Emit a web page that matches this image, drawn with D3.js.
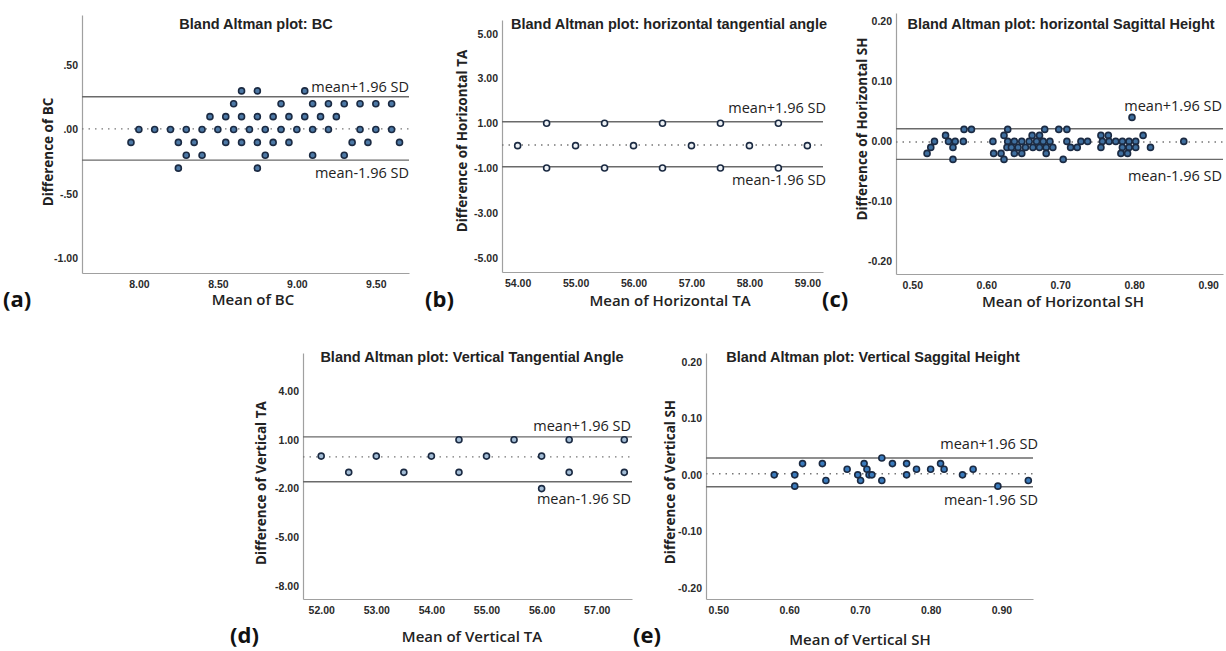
<!DOCTYPE html>
<html>
<head>
<meta charset="utf-8">
<script src="https://cdn.jsdelivr.net/npm/d3@7"></script>
<style>
  html, body { margin: 0; padding: 0; background: #fff; }
  svg { display: block; }
</style>
</head>
<body>
<svg id="chart" width="1226" height="651"></svg>
<script>
// ---------- DATA ----------
// (a) BC
const bcMean = [8.65, 8.75, 9.05,
  8.6, 8.9, 9.1, 9.2, 9.3, 9.4, 9.5, 9.6,
  8.45, 8.55, 8.65, 8.75, 8.85, 8.95, 9.05, 9.15, 9.25,
  8.0, 8.1, 8.2, 8.3, 8.4, 8.5, 8.6, 8.7, 8.8, 8.9, 9.0, 9.1, 9.2, 9.4, 9.5, 9.6,
  7.95, 8.25, 8.35, 8.55, 8.65, 8.75, 8.85, 8.95, 9.35, 9.45, 9.65,
  8.3, 8.4, 8.8, 9.1, 9.3,
  8.25, 8.75];
const bcDiff = [0.3, 0.3, 0.3,
  0.2, 0.2, 0.2, 0.2, 0.2, 0.2, 0.2, 0.2,
  0.1, 0.1, 0.1, 0.1, 0.1, 0.1, 0.1, 0.1, 0.1,
  0, 0, 0, 0, 0, 0, 0, 0, 0, 0, 0, 0, 0, 0, 0, 0,
  -0.1, -0.1, -0.1, -0.1, -0.1, -0.1, -0.1, -0.1, -0.1, -0.1, -0.1,
  -0.2, -0.2, -0.2, -0.2, -0.2,
  -0.3, -0.3];
const bcLimits = [0.255, 0.005, -0.238];          // upper, mean, lower
const bcXTicks = [8.0, 8.5, 9.0, 9.5];
const bcYTicks = [0.5, 0, -0.5, -1.0];
const bcYTickLabels = [".50", ".00", "-.50", "-1.00"];

// (b) horizontal tangential angle
const hTaMean = [54.5, 55.5, 56.5, 57.5, 58.5, 54, 55, 56, 57, 58, 59, 54.5, 55.5, 56.5, 57.5, 58.5];
const hTaDiff = [1, 1, 1, 1, 1, 0, 0, 0, 0, 0, 0, -1, -1, -1, -1, -1];
const hTaLimits = [1.07, 0.03, -0.94];
const hTaXTicks = [54, 55, 56, 57, 58, 59];
const hTaYTicks = [5, 3, 1, -1, -3, -5];
const hTaYTickLabels = ["5.00", "3.00", "1.00", "-1.00", "-3.00", "-5.00"];

// (c) horizontal sagittal height
const hShMean = [0.797,
  0.570, 0.580, 0.629, 0.679, 0.698, 0.709,
  0.545, 0.624, 0.662, 0.672, 0.755, 0.765, 0.812,
  0.530, 0.549, 0.558, 0.569, 0.609, 0.629, 0.638, 0.648, 0.658, 0.668, 0.677, 0.686, 0.709, 0.728, 0.737, 0.757, 0.766, 0.775, 0.784, 0.793, 0.802, 0.867,
  0.525, 0.555, 0.628, 0.634, 0.643, 0.653, 0.663, 0.672, 0.681, 0.690, 0.714, 0.723, 0.755, 0.784, 0.793, 0.802, 0.822,
  0.520, 0.610, 0.620, 0.638, 0.648, 0.681, 0.782, 0.791,
  0.555, 0.624, 0.704];
const hShDiff = [0.04,
  0.02, 0.02, 0.02, 0.02, 0.02, 0.02,
  0.01, 0.01, 0.01, 0.01, 0.01, 0.01, 0.01,
  0, 0, 0, 0, 0, 0, 0, 0, 0, 0, 0, 0, 0, 0, 0, 0, 0, 0, 0, 0, 0, 0,
  -0.01, -0.01, -0.01, -0.01, -0.01, -0.01, -0.01, -0.01, -0.01, -0.01, -0.01, -0.01, -0.01, -0.01, -0.01, -0.01, -0.01,
  -0.02, -0.02, -0.02, -0.02, -0.02, -0.02, -0.02, -0.02,
  -0.03, -0.03, -0.03];
const hShLimits = [0.021, -0.001, -0.030];
const hShXTicks = [0.5, 0.6, 0.7, 0.8, 0.9];
const hShYTicks = [0.2, 0.1, 0, -0.1, -0.2];
const hShYTickLabels = ["0.20", "0.10", "0.00", "-0.10", "-0.20"];

// (d) vertical tangential angle
const vTaMean = [52, 53, 54, 55, 56, 54.5, 55.5, 56.5, 57.5, 52.5, 53.5, 54.5, 56.5, 57.5, 56];
const vTaDiff = [0, 0, 0, 0, 0, 1, 1, 1, 1, -1, -1, -1, -1, -1, -2];
const vTaLimits = [1.18, -0.05, -1.58];
const vTaXTicks = [52, 53, 54, 55, 56, 57];
const vTaYTicks = [4, 1, -2, -5, -8];
const vTaYTickLabels = ["4.00", "1.00", "-2.00", "-5.00", "-8.00"];

// (e) vertical sagittal height
const vShMean = [0.579, 0.608, 0.608, 0.619, 0.647, 0.652, 0.682, 0.697, 0.701, 0.706, 0.710, 0.713, 0.717,
  0.731, 0.731, 0.746, 0.766, 0.766, 0.780, 0.800, 0.814, 0.819, 0.845, 0.860, 0.895, 0.938];
const vShDiff = [0, 0, -0.02, 0.02, 0.02, -0.01, 0.01, 0, -0.01, 0.02, 0.01, 0, 0,
  0.03, -0.01, 0.02, 0.02, 0, 0.01, 0.01, 0.02, 0.01, 0, 0.01, -0.02, -0.01];
const vShLimits = [0.030, 0.002, -0.021];
const vShXTicks = [0.5, 0.6, 0.7, 0.8, 0.9];
const vShYTicks = [0.2, 0.1, 0, -0.1, -0.2];
const vShYTickLabels = ["0.20", "0.10", "0.00", "-0.10", "-0.20"];

const upperLabel = "mean+1.96 SD";
const lowerLabel = "mean-1.96 SD";

// ---------- LAYOUT ----------
const panels = [
  { letter: "(a)", title: "Bland Altman plot: BC", xLabel: "Mean of BC", yLabel: "Difference of BC",
    mean: bcMean, diff: bcDiff, limits: bcLimits, xTicks: bcXTicks, yTicks: bcYTicks, yTickLabels: bcYTickLabels,
    xDomain: [7.64, 9.71], yDomain: [-1.115, 0.89],
    box: { l: 82, r: 409, t: 15, b: 273 }, titleX: 256, titleY: 29,
    xLabelPos: [253, 305], yLabelPos: [48, 152], letterPos: [3, 307],
    upY: -5, loY: 18, labelR: 409, fill: "#4d79a6" },
  { letter: "(b)", title: "Bland Altman plot: horizontal tangential angle", xLabel: "Mean of Horizontal TA", yLabel: "Difference of Horizontal TA",
    mean: hTaMean, diff: hTaDiff, limits: hTaLimits, xTicks: hTaXTicks, yTicks: hTaYTicks, yTickLabels: hTaYTickLabels,
    xDomain: [53.73, 59.27], yDomain: [-5.64, 5.61],
    box: { l: 502, r: 823, t: 20, b: 272 }, titleX: 669, titleY: 29,
    xLabelPos: [670, 306], yLabelPos: [462, 141], letterPos: [425, 307],
    upY: -9, loY: 18, labelR: 826, fill: "#eef2f6" },
  { letter: "(c)", title: "Bland Altman plot: horizontal Sagittal Height", xLabel: "Mean of Horizontal SH", yLabel: "Difference of Horizontal SH",
    mean: hShMean, diff: hShDiff, limits: hShLimits, xTicks: hShXTicks, yTicks: hShYTicks, yTickLabels: hShYTickLabels,
    xDomain: [0.478, 0.92], yDomain: [-0.221, 0.214],
    box: { l: 896, r: 1223, t: 13, b: 274 }, titleX: 1061, titleY: 29,
    xLabelPos: [1063, 307], yLabelPos: [862, 129], letterPos: [822, 307],
    upY: -18, loY: 22, labelR: 1222, fill: "#3f6f9f" },
  { letter: "(d)", title: "Bland Altman plot: Vertical Tangential Angle", xLabel: "Mean of Vertical TA", yLabel: "Difference of Vertical TA",
    mean: vTaMean, diff: vTaDiff, limits: vTaLimits, xTicks: vTaXTicks, yTicks: vTaYTicks, yTickLabels: vTaYTickLabels,
    xDomain: [51.67, 57.64], yDomain: [-8.79, 6.34],
    box: { l: 303, r: 632, t: 353, b: 599 }, titleX: 472, titleY: 362,
    xLabelPos: [472, 642], yLabelPos: [261, 483], letterPos: [230, 643],
    upY: -6, loY: 22, labelR: 631, fill: "#a3bdd6" },
  { letter: "(e)", title: "Bland Altman plot: Vertical Saggital Height", xLabel: "Mean of Vertical SH", yLabel: "Difference of Vertical SH",
    mean: vShMean, diff: vShDiff, limits: vShLimits, xTicks: vShXTicks, yTicks: vShYTicks, yTickLabels: vShYTickLabels,
    xDomain: [0.4826, 0.9446], yDomain: [-0.22, 0.216],
    box: { l: 706, r: 1033, t: 353, b: 599 }, titleX: 873, titleY: 362,
    xLabelPos: [860, 645], yLabelPos: [670, 482], letterPos: [633, 643],
    upY: -9, loY: 18, labelR: 1038, fill: "#3a7bbd" }
];

const svg = d3.select("#chart");
const TITLE_FONT = "'Liberation Sans', Arial, sans-serif";
const LABEL_FONT = "'Open Sans', 'DejaVu Sans', sans-serif";

panels.forEach(p => {
  const g = svg.append("g");
  const x = d3.scaleLinear().domain(p.xDomain).range([p.box.l, p.box.r]);
  const y = d3.scaleLinear().domain(p.yDomain).range([p.box.b, p.box.t]);

  // axes (lines only, SPSS style)
  const xAxis = d3.axisBottom(x).tickValues(p.xTicks).tickFormat(d3.format(".2f")).tickSize(0).tickPadding(8);
  const yAxis = d3.axisLeft(y).tickValues(p.yTicks).tickFormat((d, i) => p.yTickLabels[i]).tickSize(0).tickPadding(4);

  const gx = g.append("g").attr("transform", `translate(0,${p.box.b})`).call(xAxis);
  const gy = g.append("g").attr("transform", `translate(${p.box.l},0)`).call(yAxis);
  [gx, gy].forEach(a => {
    a.select(".domain").attr("stroke", "#a0a0a0").attr("stroke-width", 1.2);
    a.selectAll("text").attr("font-family", TITLE_FONT).attr("font-weight", "bold")
      .attr("font-size", 10.5).attr("fill", "#2a2a2a");
  });

  // limit lines
  const [up, mn, lo] = p.limits;
  [up, lo].forEach(v => {
    g.append("line").attr("x1", p.box.l).attr("x2", p.box.r)
      .attr("y1", y(v)).attr("y2", y(v))
      .attr("stroke", "#6a6a6a").attr("stroke-width", 1.4);
  });
  g.append("line").attr("x1", p.box.l).attr("x2", p.box.r)
    .attr("y1", y(mn)).attr("y2", y(mn))
    .attr("stroke", "#777").attr("stroke-width", 1.3).attr("stroke-dasharray", "1.5,5");

  // points
  g.append("g").selectAll("circle").data(p.mean.map((m, i) => [m, p.diff[i]]))
    .join("circle")
    .attr("cx", d => x(d[0])).attr("cy", d => y(d[1])).attr("r", 3)
    .attr("fill", p.fill).attr("stroke", "#1b2a42").attr("stroke-width", 1.6);

  // annotations
  g.append("text").attr("x", p.labelR).attr("y", y(up) + p.upY)
    .attr("text-anchor", "end").attr("font-family", LABEL_FONT).attr("font-size", 14.5)
    .attr("fill", "#222").text(upperLabel);
  g.append("text").attr("x", p.labelR).attr("y", y(lo) + p.loY)
    .attr("text-anchor", "end").attr("font-family", LABEL_FONT).attr("font-size", 14.5)
    .attr("fill", "#222").text(lowerLabel);

  // title
  g.append("text").attr("x", p.titleX).attr("y", p.titleY).attr("text-anchor", "middle")
    .attr("font-family", TITLE_FONT).attr("font-weight", "bold").attr("font-size", 14.5)
    .attr("fill", "#222").text(p.title);

  // axis titles
  g.append("text").attr("x", p.xLabelPos[0]).attr("y", p.xLabelPos[1]).attr("text-anchor", "middle")
    .attr("font-family", LABEL_FONT).attr("font-weight", 600).attr("font-size", 15)
    .attr("fill", "#222").text(p.xLabel);
  g.append("text").attr("transform", `translate(${p.yLabelPos[0]},${p.yLabelPos[1]}) rotate(-90)`)
    .attr("text-anchor", "middle").attr("dominant-baseline", "central")
    .attr("font-family", LABEL_FONT).attr("font-weight", 700).attr("font-size", 13.5)
    .attr("fill", "#222").text(p.yLabel);

  // panel letter
  g.append("text").attr("x", p.letterPos[0]).attr("y", p.letterPos[1])
    .attr("font-family", LABEL_FONT).attr("font-weight", 700).attr("font-size", 22)
    .attr("fill", "#111").text(p.letter);
});
</script>
</body>
</html>
